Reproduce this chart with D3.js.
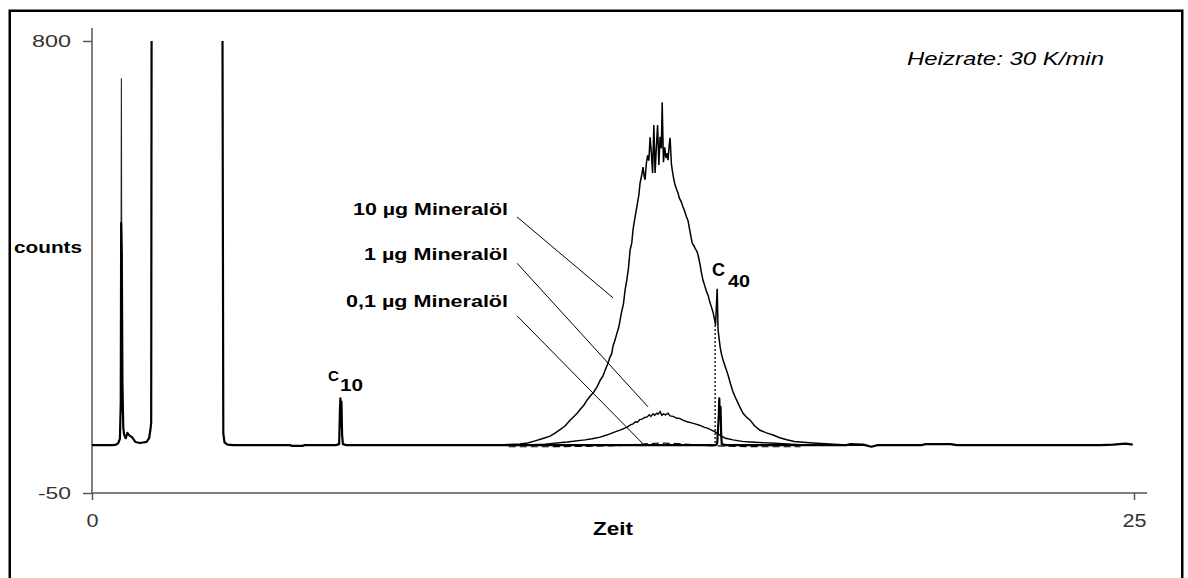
<!DOCTYPE html>
<html>
<head>
<meta charset="utf-8">
<script src="https://cdn.jsdelivr.net/npm/d3@7"></script>
<style>
  body { margin: 0; background: #fff; }
  svg { display: block; }
  text { font-family: "Liberation Sans", Arial, Helvetica, sans-serif; }
</style>
</head>
<body>
<svg id="chart" width="1188" height="578"></svg>
<script>
// Axis ranges and tick values
const xDomain = [0, 25];
const yDomain = [-50, 800];
const xTickValues = [0, 25];
const yTickValues = [-50, 800];

// Common trace: solvent front, n-alkane markers C10 and C40, baseline  [time, counts]
const baseTrace = [
  [0, 40], [0.5, 40], [0.58, 41], [0.63, 44], [0.67, 52], [0.69, 120], [0.70, 458], [0.715, 398],
  [0.73, 160], [0.75, 74], [0.77, 60], [0.81, 53], [0.85, 63], [0.9, 58], [0.96, 55], [1.04, 46],
  [1.15, 44], [1.22, 45], [1.31, 46], [1.37, 53], [1.40, 68], [1.42, 82], [1.43, 850], [3.13, 850],
  [3.15, 62], [3.18, 45], [3.25, 41], [3.4, 40], [4.75, 40], [4.8, 38.5], [5.05, 38.5], [5.1, 40],
  [5.85, 40], [5.93, 42], [5.95, 110], [5.96, 128], [5.975, 75], [5.985, 122], [6.0, 60], [6.02, 42],
  [6.1, 40], [14.97, 40], [15.0, 43], [15.04, 100], [15.05, 128], [15.065, 90], [15.08, 112],
  [15.095, 60], [15.11, 42], [15.2, 40], [18.1, 40], [18.2, 42], [18.5, 41], [18.7, 37], [18.85, 40],
  [19.9, 40], [20.0, 42], [20.6, 42], [20.75, 40], [24.2, 40], [24.5, 41], [24.8, 43], [24.97, 41]
];

// Sharp solvent peak of the 10 µg run
const frontPeak10 = [[0.69, 100], [0.705, 730], [0.72, 100]];

// 10 µg Mineralöl  [time, counts]
const trace10 = [
  [9.6, 40], [10.0, 41], [10.27, 42], [10.45, 44], [10.63, 48], [10.8, 52], [10.99, 57], [11.1, 62],
  [11.23, 69], [11.35, 76], [11.47, 87], [11.55, 93], [11.64, 100], [11.72, 108], [11.80, 115],
  [11.88, 125], [11.96, 133], [12.04, 140], [12.12, 150], [12.2, 163], [12.26, 170], [12.31, 181],
  [12.37, 192], [12.43, 206], [12.47, 212], [12.50, 226], [12.55, 238], [12.60, 252], [12.64, 262],
  [12.67, 275], [12.71, 292], [12.75, 305], [12.79, 332], [12.83, 350], [12.87, 372], [12.91, 407],
  [12.95, 420], [12.98, 445], [13.01, 460], [13.05, 478], [13.08, 492], [13.12, 510], [13.15, 533],
  [13.19, 548], [13.22, 563], [13.25, 545], [13.27, 539], [13.30, 570], [13.33, 585], [13.36, 575],
  [13.39, 619], [13.42, 590], [13.45, 552], [13.48, 642], [13.51, 552], [13.54, 600], [13.57, 642],
  [13.60, 567], [13.63, 620], [13.66, 598], [13.68, 685], [13.71, 572], [13.74, 600], [13.77, 580],
  [13.80, 589], [13.82, 576], [13.85, 605], [13.87, 618], [13.90, 570], [13.92, 558], [13.96, 539],
  [13.99, 529], [14.03, 520], [14.06, 514], [14.09, 505], [14.14, 497], [14.18, 488], [14.22, 480],
  [14.26, 470], [14.30, 462], [14.34, 445], [14.37, 432], [14.40, 420], [14.44, 415], [14.47, 410],
  [14.51, 405], [14.54, 398], [14.58, 383], [14.62, 365], [14.66, 350], [14.70, 340], [14.74, 330],
  [14.78, 322], [14.82, 310], [14.86, 300], [14.90, 290], [14.93, 279], [14.96, 266], [14.98, 300],
  [15.00, 334], [15.02, 257], [15.05, 238], [15.07, 225], [15.10, 212], [15.14, 200], [15.20, 186],
  [15.26, 172], [15.32, 155], [15.38, 140], [15.44, 129], [15.50, 119], [15.56, 109], [15.62, 100],
  [15.70, 93], [15.79, 87], [15.90, 76], [16.03, 68], [16.18, 63], [16.34, 59], [16.5, 54],
  [16.67, 50], [16.85, 47], [16.99, 46], [17.3, 44], [17.7, 42], [18.2, 40], [18.6, 40]
];

// 1 µg Mineralöl
const trace1 = [
  [10.0, 40], [10.27, 40], [10.87, 42], [11.40, 46], [11.83, 50], [12.0, 52], [12.19, 55], [12.35, 59],
  [12.55, 65], [12.7, 69], [12.84, 74], [12.92, 78], [12.98, 80], [13.04, 84], [13.09, 83], [13.14, 88],
  [13.20, 89], [13.26, 92], [13.32, 93], [13.37, 97], [13.41, 94], [13.46, 99], [13.50, 96], [13.55, 100],
  [13.58, 98], [13.63, 103], [13.67, 96], [13.71, 99], [13.76, 97], [13.82, 100], [13.87, 95], [13.94, 94],
  [14.02, 91], [14.11, 90], [14.2, 86], [14.28, 84], [14.38, 82], [14.47, 80], [14.59, 77], [14.68, 74],
  [14.76, 72], [14.84, 69], [14.90, 67], [14.95, 65], [15.1, 57], [15.2, 53], [15.38, 50], [15.6, 47],
  [15.79, 46], [16.27, 44], [16.99, 41], [17.5, 40]
];

// 0,1 µg Mineralöl
const trace01 = [
  [10.0, 37], [11.0, 37], [12.0, 38], [12.6, 39], [13.0, 41], [13.4, 43], [13.7, 44], [14.0, 43],
  [14.4, 41], [14.8, 39], [15.2, 38], [16.0, 37], [17.0, 37]
];

// Drop line marking C40 on the 10 µg trace
const c40Drop = [[14.95, 266], [14.95, 40]];

// Series labels and the points their leader lines point to  [time, counts]
const seriesLabels = ["10 µg Mineralöl", "1 µg Mineralöl", "0,1 µg Mineralöl"];
const leaderStart = [[10.20, 469], [10.20, 382], [10.20, 283]];
const leaderEnd = [[12.50, 317], [13.34, 112], [13.20, 44]];

const svg = d3.select("#chart");

const x = d3.scaleLinear().domain(xDomain).range([92, 1134]);
const y = d3.scaleLinear().domain(yDomain).range([493, 41]);

// Outer frame
svg.append("rect")
  .attr("x", 9.75).attr("y", 10.75)
  .attr("width", 1172.5).attr("height", 570)
  .attr("fill", "none").attr("stroke", "#000").attr("stroke-width", 2.5);

// Clip traces at the top of the value range
svg.append("defs").append("clipPath").attr("id", "plotClip")
  .append("rect")
  .attr("x", x(0)).attr("y", y(800))
  .attr("width", x(25) - x(0) + 20).attr("height", y(-50) - y(800));

// Axes
const axisColor = "#555";
const plainNumber = d => String(d);
const yAxis = svg.append("g")
  .attr("transform", `translate(${x(0)},0)`)
  .call(d3.axisLeft(y).tickValues(yTickValues).tickFormat(plainNumber)
    .tickSize(9).tickPadding(12).tickSizeOuter(0));
yAxis.select(".domain").attr("d", `M0,28V${y(-50)}`);
const xAxis = svg.append("g")
  .attr("transform", `translate(0,${y(-50)})`)
  .call(d3.axisBottom(x).tickValues(xTickValues).tickFormat(plainNumber)
    .tickSize(7).tickPadding(13.5).tickSizeOuter(0));
xAxis.select(".domain").attr("d", `M${x(0)},0H1147`);

[yAxis, xAxis].forEach(g => {
  g.select(".domain").attr("stroke", axisColor).attr("stroke-width", 1.5);
  g.selectAll(".tick line").attr("stroke", axisColor).attr("stroke-width", 1.5);
  g.selectAll(".tick text")
    .attr("fill", "#333")
    .attr("font-family", '"Liberation Sans", Arial, sans-serif')
    .attr("lengthAdjust", "spacingAndGlyphs");
});
const yTickWidth = { "-50": 33, "800": 39 };
yAxis.selectAll(".tick text").attr("font-size", 17)
  .attr("textLength", d => yTickWidth[String(d)]);
const xTickWidth = { "0": 12, "25": 24 };
xAxis.selectAll(".tick text").attr("font-size", 19)
  .attr("textLength", d => xTickWidth[String(d)]);

// Text helper
function label(txt, px, py, opts) {
  const t = svg.append("text")
    .attr("x", px).attr("y", py)
    .attr("font-size", opts.size)
    .attr("font-weight", opts.weight || "normal")
    .attr("font-style", opts.style || "normal")
    .attr("fill", opts.fill || "#000")
    .attr("text-anchor", opts.anchor || "start")
    .text(txt);
  if (opts.len) t.attr("textLength", opts.len).attr("lengthAdjust", "spacingAndGlyphs");
  return t;
}
label("counts", 14, 253, { size: 16, weight: "bold", len: 68 });
label("Zeit", 593, 535, { size: 17.5, weight: "bold", len: 40 });
label("Heizrate: 30 K/min", 907, 65, { size: 17.5, style: "italic", len: 197 });

// Traces
const line = d3.line().x(d => x(d[0])).y(d => y(d[1]));
const plot = svg.append("g").attr("clip-path", "url(#plotClip)");

plot.append("path").datum(trace01).attr("d", line)
  .attr("fill", "none").attr("stroke", "#000").attr("stroke-width", 1.2)
  .attr("stroke-dasharray", "7,4");
plot.append("path").datum(trace1).attr("d", line)
  .attr("fill", "none").attr("stroke", "#000").attr("stroke-width", 1.4)
  .attr("stroke-linejoin", "miter");
plot.append("path").datum(trace10).attr("d", line)
  .attr("fill", "none").attr("stroke", "#000").attr("stroke-width", 1.5)
  .attr("stroke-linejoin", "miter");
plot.append("path").datum(frontPeak10).attr("d", line)
  .attr("fill", "none").attr("stroke", "#222").attr("stroke-width", 1.1);
plot.append("path").datum(baseTrace).attr("d", line)
  .attr("fill", "none").attr("stroke", "#000").attr("stroke-width", 2.2)
  .attr("stroke-linejoin", "round");

// C40 drop line
svg.append("path").datum(c40Drop).attr("d", line)
  .attr("fill", "none").attr("stroke", "#000").attr("stroke-width", 1.3)
  .attr("stroke-dasharray", "2,2");

// Series labels with leader lines
const labelBase = [215, 260, 306.5];
const labelLen = [155, 144, 162];
seriesLabels.forEach((s, i) => {
  label(s, 508, labelBase[i], { size: 16, weight: "bold", anchor: "end", len: labelLen[i] });
  svg.append("line")
    .attr("x1", x(leaderStart[i][0])).attr("y1", y(leaderStart[i][1]))
    .attr("x2", x(leaderEnd[i][0])).attr("y2", y(leaderEnd[i][1]))
    .attr("stroke", "#000").attr("stroke-width", 1);
});

// Alkane markers
label("C", 328, 381, { size: 14, weight: "bold", len: 11 });
label("10", 340, 391, { size: 16, weight: "bold", len: 23 });
label("C", 712, 276, { size: 17.5, weight: "bold", len: 13 });
label("40", 728, 287, { size: 17, weight: "bold", len: 22 });
</script>
</body>
</html>
